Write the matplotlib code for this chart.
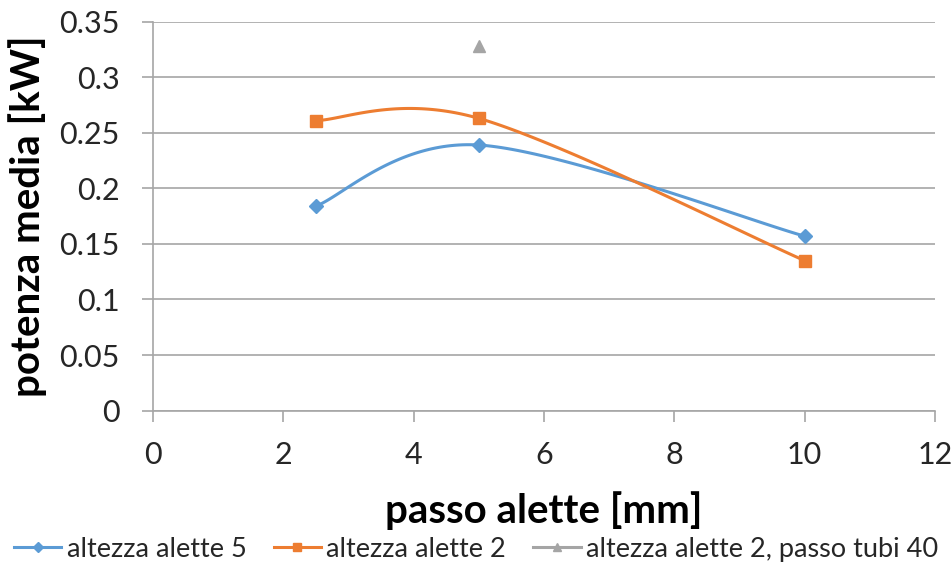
import numpy as np
import matplotlib
matplotlib.use("Agg")
import matplotlib.pyplot as plt
from matplotlib.lines import Line2D

plt.rcParams['font.family'] = ['Lato', 'DejaVu Sans']

# passo alette [mm] and potenza media [kW]
passo = [2.5, 5, 10]
altezza_5 = [0.184, 0.239, 0.157]
altezza_2 = [0.261, 0.263, 0.135]
passo_tubi40_x = [5]
passo_tubi40_y = [0.328]

labels = ["altezza alette 5", "altezza alette 2", "altezza alette 2, passo tubi 40"]
colors = ["#5b9bd5", "#ed7d31", "#a5a5a5"]
xticks = [0, 2, 4, 6, 8, 10, 12]
yticks = [0, 0.05, 0.1, 0.15, 0.2, 0.25, 0.3, 0.35]
ytick_labels = ["0", "0.05", "0.1", "0.15", "0.2", "0.25", "0.3", "0.35"]


def smooth(xs, ys, n=60):
    """Piecewise cubic Bezier through the points (cardinal spline)."""
    p = np.column_stack([xs, ys]).astype(float)
    out = [p[:1]]
    t = np.linspace(0, 1, n)[1:, None]
    for i in range(len(p) - 1):
        p0 = p[i - 1] if i > 0 else p[i]
        p1, p2 = p[i], p[i + 1]
        p3 = p[i + 2] if i + 2 < len(p) else p[i + 1]
        c1 = p1 + (p2 - p0) / 6.0
        c2 = p2 - (p3 - p1) / 6.0
        seg = ((1 - t) ** 3) * p1 + 3 * ((1 - t) ** 2) * t * c1 + 3 * (1 - t) * t ** 2 * c2 + t ** 3 * p2
        out.append(seg)
    pts = np.vstack(out)
    return pts[:, 0], pts[:, 1]


fig = plt.figure(figsize=(9.52, 5.69), dpi=100)
ax = fig.add_axes([0.1607, 0.2784, 0.8213, 0.6835])

sx, sy = smooth(passo, altezza_5)
ax.plot(sx, sy, color=colors[0], lw=2.2, zorder=3)
ax.plot(passo, altezza_5, ls="none", marker="D", ms=7, color=colors[0], zorder=4)

sx, sy = smooth(passo, altezza_2)
ax.plot(sx, sy, color=colors[1], lw=2.2, zorder=3)
ax.plot(passo, altezza_2, ls="none", marker="s", ms=9, color=colors[1], zorder=4)

ax.plot(passo_tubi40_x, passo_tubi40_y, ls="none", marker="^", ms=9, color=colors[2], zorder=4)

ax.set_xlim(0, 12)
ax.set_ylim(0, 0.35)
ax.set_xticks(xticks)
ax.set_xticklabels([str(v) for v in xticks])
ax.set_yticks(yticks)
ax.set_yticklabels(ytick_labels)

ax.yaxis.grid(True, color="#a6a6a6", lw=1.2)
ax.set_axisbelow(True)
for s in ["top", "right"]:
    ax.spines[s].set_visible(False)
for s in ["left", "bottom"]:
    ax.spines[s].set_color("#a6a6a6")
    ax.spines[s].set_linewidth(1.2)
ax.tick_params(axis="both", colors="#a6a6a6", labelcolor="#262626", labelsize=22,
               length=8, width=1.2, direction="out")
ax.tick_params(axis="x", pad=14)
ax.tick_params(axis="y", pad=16)

ax.set_xlabel("passo alette [mm]", fontsize=29, fontweight="bold", color="black", labelpad=16)
ax.set_ylabel("potenza media [kW]", fontsize=29, fontweight="bold", color="black", labelpad=9)

handles = [
    Line2D([], [], color=colors[0], lw=2.2, marker="D", ms=5),
    Line2D([], [], color=colors[1], lw=2.2, marker="s", ms=6),
    Line2D([], [], color=colors[2], lw=2.2, marker="^", ms=6),
]
fig.legend(handles, labels, loc="lower center", bbox_to_anchor=(0.5, -0.03), ncol=3,
           frameon=False, fontsize=19.5, handlelength=1.75, handletextpad=0.2,
           columnspacing=1.0, labelcolor="#262626")

fig.savefig("out.png", dpi=100)
